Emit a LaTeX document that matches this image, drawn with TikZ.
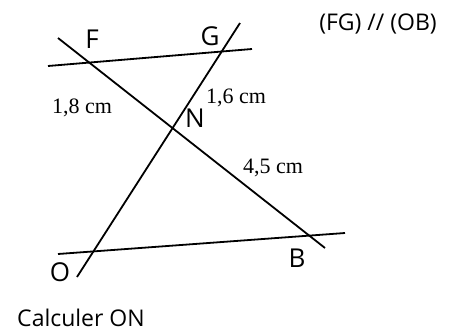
\documentclass[tikz,border=0pt]{standalone}
\usepackage{fontspec}
\setmainfont{Liberation Serif}
\newfontfamily\handfont{Open Sans}
\tikzset{
  geoline/.style={line width=1.8pt, black},
  ptlabel/.style={font=\handfont\fontsize{26}{30}\selectfont, inner sep=0pt},
  txtlabel/.style={font=\handfont\fontsize{23}{27}\selectfont, inner sep=0pt},
  lenlabel/.style={font=\fontsize{22}{26}\selectfont, inner sep=0pt},
}
\begin{document}
\begin{tikzpicture}[x=1pt,y=-1pt]
\useasboundingbox (0,0) rectangle (450,335);
% line ends
\coordinate (fgL) at (48,66);
\coordinate (fgR) at (252,49);
\coordinate (fbT) at (58,38);
\coordinate (fbB) at (325,248);
\coordinate (goT) at (240,23);
\coordinate (goB) at (77,277);
\coordinate (obL) at (58,254);
\coordinate (obR) at (345,233);
\draw[geoline] (fgL) -- (fgR);
\draw[geoline] (fbT) -- (fbB);
\draw[geoline] (goT) -- (goB);
\draw[geoline] (obL) -- (obR);
% labels
\node[ptlabel] (F) at (92,39) {F};
\node[ptlabel] (G) at (210,36) {G};
\node[ptlabel] (N) at (195,118) {N};
\node[ptlabel] (B) at (297,258) {B};
\node[ptlabel] (O) at (60,272) {O};
\node[lenlabel] (l18) at (82,108) {1,8 cm};
\node[lenlabel] (l16) at (236,98) {1,6 cm};
\node[lenlabel] (l45) at (273,168) {4,5 cm};
\node[txtlabel] (par) at (378,24) {(FG) // (OB)};
\node[txtlabel] (calc) at (81,318) {Calculer ON};
\end{tikzpicture}
\end{document}
